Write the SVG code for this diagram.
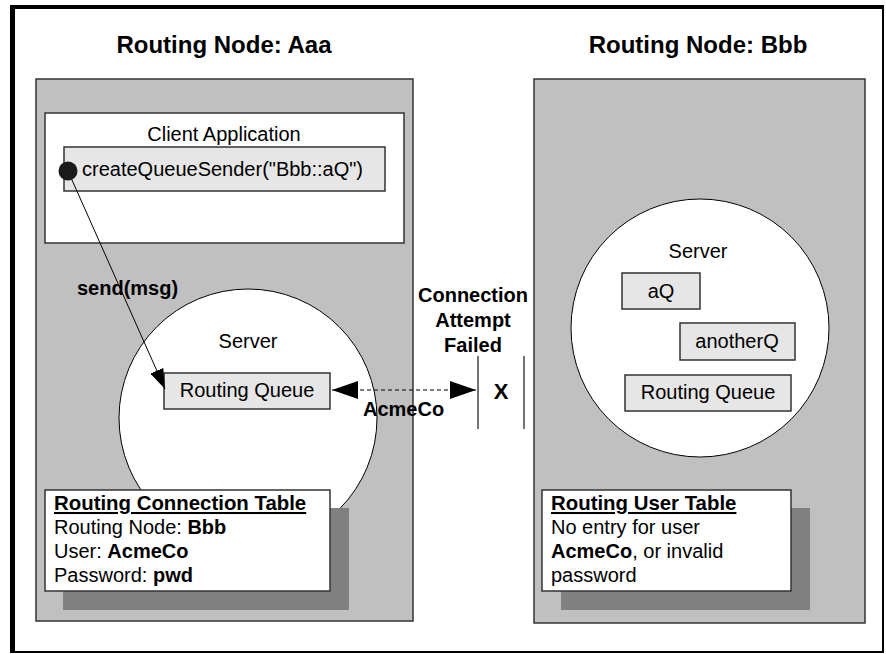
<svg xmlns="http://www.w3.org/2000/svg" width="886" height="654" viewBox="0 0 886 654">
<defs>
<style>
text{font-family:"Liberation Sans",Arial,sans-serif;font-size:20px;fill:#000}
.title{font-size:24px;font-weight:bold}
.b{font-weight:bold}
.panel{fill:#c0c0c0;stroke:#333;stroke-width:1.5}
.q{fill:#e6e6e6;stroke:#333;stroke-width:1.5}
.srv{fill:#fff;stroke:#000;stroke-width:1}
.shadow{fill:#808080}
.tbl{fill:#fff;stroke:#333;stroke-width:1.5}
.c{text-anchor:middle}
</style>
<marker id="ah" viewBox="0 0 26 18" refX="26" refY="9" markerWidth="26" markerHeight="18" markerUnits="userSpaceOnUse" orient="auto-start-reverse">
<path d="M0,0 L26,9 L0,18 z" fill="#000"/>
</marker>
<marker id="ah2" viewBox="0 0 20 14" refX="20" refY="7" markerWidth="20" markerHeight="14" markerUnits="userSpaceOnUse" orient="auto">
<path d="M0,0 L20,7 L0,14 z" fill="#000"/>
</marker>
</defs>
<rect x="0" y="0" width="886" height="654" fill="#fff"/>
<g id="frame">
<rect x="12" y="7" width="871" height="645" fill="none" stroke="#000" stroke-width="2"/>
<rect x="10" y="5" width="5" height="648" fill="#000"/>
<rect x="10" y="5" width="874" height="4" fill="#000"/>
</g>
<g id="nodeAaa">
<text class="title c" x="224" y="53">Routing Node: Aaa</text>
<rect class="panel" x="36" y="79" width="377" height="542"/>
</g>
<g id="clientApp">
<rect x="45" y="113" width="359" height="130" fill="#fff" stroke="#333" stroke-width="1.5"/>
<text class="c" x="224" y="141">Client Application</text>
<rect class="q" x="64" y="147" width="321" height="44"/>
<text x="82" y="176">createQueueSender("Bbb::aQ")</text>
</g>
<g id="serverA">
<circle class="srv" cx="248" cy="418" r="129"/>
<text class="c" x="248" y="348">Server</text>
</g>
<g id="routingQueueA">
<rect class="q" x="164" y="373" width="166" height="36"/>
<text class="c" x="247" y="397">Routing Queue</text>
</g>
<g id="connTable">
<rect class="shadow" x="63" y="508" width="286" height="102"/>
<rect class="tbl" x="45" y="490" width="285" height="101"/>
<text x="54" y="510" class="b" text-decoration="underline" style="font-size:20.4px">Routing Connection Table</text>
<text x="54" y="534">Routing Node: <tspan class="b">Bbb</tspan></text>
<text x="54" y="558">User: <tspan class="b">AcmeCo</tspan></text>
<text x="54" y="582">Password: <tspan class="b">pwd</tspan></text>
</g>
<g id="nodeBbb">
<text class="title c" x="698" y="53">Routing Node: Bbb</text>
<rect class="panel" x="534" y="79" width="331" height="544"/>
</g>
<g id="serverB">
<circle class="srv" cx="700" cy="328" r="129"/>
<text class="c" x="698" y="258">Server</text>
</g>
<g id="aQ">
<rect class="q" x="622" y="273" width="78" height="36"/>
<text class="c" x="661" y="298">aQ</text>
</g>
<g id="anotherQ">
<rect class="q" x="680" y="323" width="115" height="37"/>
<text class="c" x="737" y="348">anotherQ</text>
</g>
<g id="routingQueueB">
<rect class="q" x="625" y="375" width="166" height="36"/>
<text class="c" x="708" y="399">Routing Queue</text>
</g>
<g id="userTable">
<rect class="shadow" x="561" y="508" width="249" height="102"/>
<rect class="tbl" x="542" y="490" width="249" height="101"/>
<text x="551" y="510" class="b" text-decoration="underline" style="font-size:20.4px">Routing User Table</text>
<text x="551" y="534">No entry for user</text>
<text x="551" y="558"><tspan class="b">AcmeCo</tspan>, or invalid</text>
<text x="551" y="582">password</text>
</g>
<g id="failure">
<text class="b c" x="473" y="302">Connection</text>
<text class="b c" x="473" y="327">Attempt</text>
<text class="b c" x="473" y="352">Failed</text>
<line x1="478" y1="356" x2="478" y2="429" stroke="#444" stroke-width="1.5"/>
<line x1="524" y1="356" x2="524" y2="429" stroke="#444" stroke-width="1.5"/>
<text class="b c" x="501" y="399" style="font-size:22px">X</text>
</g>
<g id="connectors">
<line x1="68" y1="171" x2="165" y2="389" stroke="#000" stroke-width="1" marker-end="url(#ah2)"/>
<circle cx="68" cy="171" r="9.5" fill="#1a1a1a"/>
<line x1="332" y1="390" x2="476" y2="390" stroke="#000" stroke-width="1" stroke-dasharray="4,3" marker-start="url(#ah)" marker-end="url(#ah)"/>
<text class="b" x="77" y="295">send(msg)</text>
<text class="b" x="363" y="416">AcmeCo</text>
</g>
</svg>
